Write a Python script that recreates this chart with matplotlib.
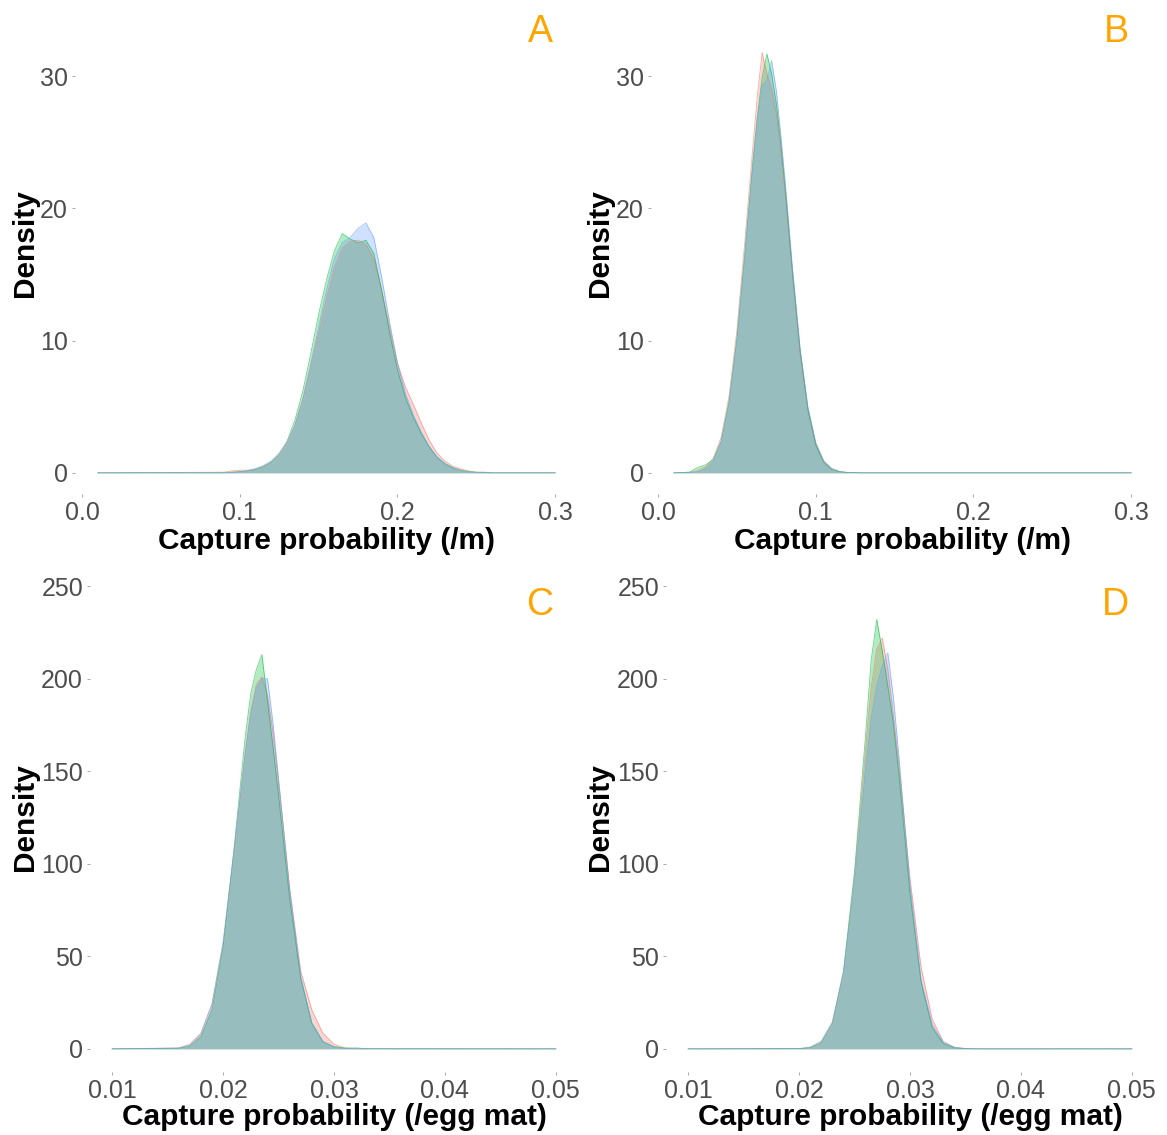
import matplotlib
matplotlib.use("Agg")
import matplotlib.pyplot as plt

# ---------------- data ----------------
series_names = ["Series 1", "Series 2", "Series 3"]
series_colors = ["#F8766D", "#00BA38", "#619CFF"]

# Panel A: capture probability (/m)
a_x = [0.010, 0.090, 0.095, 0.100, 0.105, 0.110, 0.115, 0.120, 0.125, 0.130,
       0.135, 0.140, 0.145, 0.150, 0.155, 0.160, 0.165, 0.170, 0.175, 0.180,
       0.185, 0.190, 0.195, 0.200, 0.205, 0.210, 0.215, 0.220, 0.225, 0.230,
       0.235, 0.240, 0.245, 0.250, 0.255, 0.260, 0.300]
a_red = [0, 0.05, 0.15, 0.2, 0.2, 0.3, 0.5, 0.8, 1.3, 2.2, 3.6, 5.5, 8.0, 10.6,
         13.2, 15.5, 17.0, 17.5, 17.6, 17.3, 16.2, 13.8, 11.0, 8.3, 6.5, 5.2,
         3.8, 2.5, 1.5, 0.9, 0.5, 0.3, 0.15, 0.05, 0.02, 0.0, 0]
a_green = [0, 0.0, 0.05, 0.1, 0.15, 0.25, 0.45, 0.8, 1.4, 2.4, 4.0, 6.2, 9.0,
           12.0, 14.6, 16.8, 18.1, 17.7, 17.4, 17.6, 16.6, 13.8, 10.6, 7.8, 5.7,
           4.2, 3.0, 2.0, 1.2, 0.7, 0.4, 0.2, 0.1, 0.05, 0.05, 0.0, 0]
a_blue = [0, 0.0, 0.02, 0.05, 0.15, 0.3, 0.55, 0.9, 1.5, 2.3, 3.6, 5.6, 8.2,
          11.0, 13.8, 16.2, 17.4, 17.8, 18.5, 18.9, 17.8, 14.8, 11.4, 8.3, 6.0,
          4.4, 3.1, 2.0, 1.2, 0.7, 0.35, 0.15, 0.05, 0.02, 0.0, 0.0, 0]

# Panel B: capture probability (/m)
b_x = [0.010, 0.020, 0.025, 0.030, 0.035, 0.040, 0.045, 0.050, 0.055, 0.060,
       0.063, 0.066, 0.069, 0.072, 0.075, 0.078, 0.081, 0.085, 0.090, 0.095,
       0.100, 0.105, 0.110, 0.115, 0.120, 0.130, 0.300]
b_red = [0, 0.05, 0.15, 0.45, 1.1, 2.7, 5.8, 10.8, 17.5, 24.5, 28.6, 31.8, 30.2,
         29.0, 27.2, 24.2, 20.6, 15.2, 9.0, 4.8, 2.2, 0.9, 0.3, 0.1, 0.03, 0, 0]
b_green = [0, 0.05, 0.4, 0.6, 1.0, 2.4, 5.4, 10.2, 16.6, 23.4, 27.0, 29.9, 31.7,
           30.2, 27.9, 24.8, 21.0, 15.5, 9.3, 4.8, 2.1, 0.8, 0.25, 0.08, 0.02, 0, 0]
b_blue = [0, 0.02, 0.08, 0.3, 0.9, 2.3, 5.2, 9.9, 16.2, 23.0, 26.6, 29.3, 29.7,
          31.2, 28.9, 25.3, 21.5, 15.8, 9.5, 5.0, 2.3, 0.9, 0.35, 0.12, 0.03, 0, 0]

# Panel C: capture probability (/egg mat)
c_x = [0.010, 0.016, 0.017, 0.018, 0.019, 0.020, 0.021, 0.022, 0.0225, 0.023,
       0.0235, 0.024, 0.0245, 0.025, 0.026, 0.027, 0.028, 0.029, 0.030, 0.031,
       0.032, 0.033, 0.050]
c_red = [0, 0.5, 2.5, 8.5, 24, 56, 106, 160, 183, 197, 201, 191, 171, 144, 87,
         42, 21, 8.5, 2.5, 0.5, 0.1, 0, 0]
c_green = [0, 0.3, 1.5, 6.5, 21, 55, 109, 169, 192, 205, 213, 188, 163, 137, 81,
           38, 14, 4, 1.2, 0.4, 0.5, 0.1, 0]
c_blue = [0, 0.4, 2.0, 8.0, 24.5, 58, 108, 160, 181, 195, 200, 200, 176, 146, 86,
          39, 13.5, 3.8, 0.9, 0.2, 0, 0, 0]

# Panel D: capture probability (/egg mat)
d_x = [0.010, 0.020, 0.021, 0.022, 0.023, 0.024, 0.025, 0.026, 0.0265, 0.027,
       0.0275, 0.028, 0.0285, 0.029, 0.030, 0.031, 0.032, 0.033, 0.034, 0.035,
       0.036, 0.050]
d_red = [0, 0.1, 0.6, 3.2, 13, 40, 93, 162, 195, 216, 222, 205, 180, 153, 92, 44,
         16, 4, 0.8, 0.15, 0, 0]
d_green = [0, 0.1, 0.6, 3.4, 14, 42, 96, 170, 210, 232, 215, 196, 176, 148, 84,
           36, 11.5, 2.8, 0.5, 0.1, 0, 0]
d_blue = [0, 0.2, 1.0, 4.2, 14.5, 41, 90, 152, 178, 196, 207, 214, 190, 158, 88,
          37, 13, 3.5, 0.9, 0.2, 0.03, 0]

panel_letters = ["A", "B", "C", "D"]
x_titles = ["Capture probability (/m)", "Capture probability (/m)",
            "Capture probability (/egg mat)", "Capture probability (/egg mat)"]
y_title = "Density"
top_xticks = [0.0, 0.1, 0.2, 0.3]
top_xticklabels = ["0.0", "0.1", "0.2", "0.3"]
top_yticks = [0, 10, 20, 30]
bot_xticks = [0.01, 0.02, 0.03, 0.04, 0.05]
bot_xticklabels = ["0.01", "0.02", "0.03", "0.04", "0.05"]
bot_yticks = [0, 50, 100, 150, 200, 250]

# ---------------- figure ----------------
plt.rcParams["font.family"] = ["Liberation Sans", "DejaVu Sans"]
W, H = 1167, 1135
fig = plt.figure(figsize=(W / 100, H / 100), dpi=100)
fig.patch.set_facecolor("white")


def axes_px(left, top, right, bottom):
    return fig.add_axes([left / W, 1 - bottom / H, (right - left) / W, (bottom - top) / H])


panels = [
    dict(rect=(75, 30, 578, 494), x=a_x, ys=[a_red, a_green, a_blue],
         xlim=(-0.0045, 0.3145), ylim=(-1.6, 33.5), xt=top_xticks,
         xtl=top_xticklabels, yt=top_yticks, ylab_x=-0.099, ylab_y=0.54,
         let_x=0.926, let_y=0.995, xlab_y=-0.101),
    dict(rect=(651, 30, 1154, 494), x=b_x, ys=[b_red, b_green, b_blue],
         xlim=(-0.0045, 0.3145), ylim=(-1.6, 33.5), xt=top_xticks,
         xtl=top_xticklabels, yt=top_yticks, ylab_x=-0.101, ylab_y=0.54,
         let_x=0.926, let_y=0.995, xlab_y=-0.101),
    dict(rect=(90, 563, 578, 1072), x=c_x, ys=[c_red, c_green, c_blue],
         xlim=(0.008, 0.052), ylim=(-12.5, 262.5), xt=bot_xticks,
         xtl=bot_xticklabels, yt=bot_yticks, ylab_x=-0.133, ylab_y=0.5,
         let_x=0.922, let_y=0.918, xlab_y=-0.088),
    dict(rect=(666, 563, 1154, 1072), x=d_x, ys=[d_red, d_green, d_blue],
         xlim=(0.008, 0.052), ylim=(-12.5, 262.5), xt=bot_xticks,
         xtl=bot_xticklabels, yt=bot_yticks, ylab_x=-0.135, ylab_y=0.5,
         let_x=0.922, let_y=0.918, xlab_y=-0.088),
]

for i, p in enumerate(panels):
    ax = axes_px(*p["rect"])
    ax.set_facecolor("white")
    for ys, col, name in zip(p["ys"], series_colors, series_names):
        ax.fill_between(p["x"], ys, 0, color=col, alpha=0.3, lw=0, label=name)
        ax.plot(p["x"], ys, color=col, lw=0.6, alpha=0.6)
    ax.set_xlim(*p["xlim"])
    ax.set_ylim(*p["ylim"])
    for s in ax.spines.values():
        s.set_visible(False)
    ax.set_xticks(p["xt"])
    ax.set_xticklabels(p["xtl"])
    ax.set_yticks(p["yt"])
    ax.tick_params(axis="both", length=2.5, width=0.6, color="#9a9a9a",
                   labelsize=18, labelcolor="#4D4D4D", pad=2.5)
    ax.set_xlabel(x_titles[i], fontsize=21.5, fontweight="bold", color="black")
    ax.xaxis.set_label_coords(0.5, p["xlab_y"])
    ax.xaxis.label.set_va("center")
    ax.set_ylabel(y_title, fontsize=21.5, fontweight="bold", color="black")
    ax.yaxis.set_label_coords(p["ylab_x"], p["ylab_y"])
    ax.yaxis.label.set_va("center")
    ax.text(p["let_x"], p["let_y"], panel_letters[i], transform=ax.transAxes,
            fontsize=27, color="#FFA500", ha="center", va="center", clip_on=False)

fig.savefig("out.png", dpi=100, facecolor="white")
